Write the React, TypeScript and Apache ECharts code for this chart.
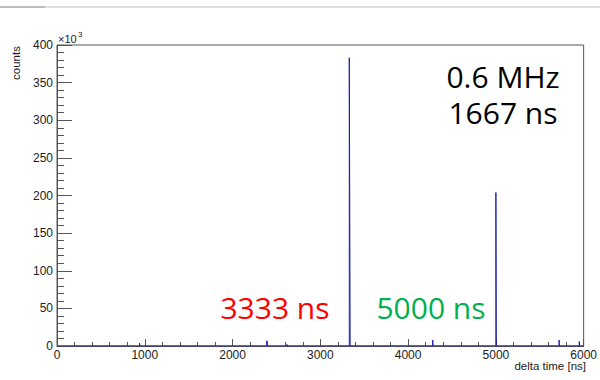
import React, { useEffect, useRef } from "react";
import * as echarts from "echarts";

// Histogram of time differences between consecutive hits (5 ns bins, counts in thousands)
const BIN_WIDTH = 5;
const binLow = [940, 2390, 2620, 3330, 3335, 4280, 5000, 5720, 5950];
const countsK = [4, 7, 2, 383, 193, 8, 204, 8, 6];

const xTicks = [0, 1000, 2000, 3000, 4000, 5000, 6000];
const yTicks = [0, 50, 100, 150, 200, 250, 300, 350, 400];

const rateLines = ["0.6 MHz", "1667 ns"];
const peakLabels = ["3333 ns", "5000 ns"];

// Build a step outline (ROOT "HIST" style) from the filled bins
function outline(): [number, number][] {
  const pts: [number, number][] = [[xTicks[0], 0]];
  let prevHigh: number | null = null;
  binLow.forEach((lo, i) => {
    const hi = lo + BIN_WIDTH;
    const v = countsK[i];
    if (prevHigh !== null && prevHigh === lo) {
      pts.push([lo, v]);
    } else {
      if (prevHigh !== null) pts.push([prevHigh, 0]);
      pts.push([lo, 0]);
      pts.push([lo, v]);
    }
    pts.push([hi, v]);
    prevHigh = hi;
  });
  if (prevHigh !== null) pts.push([prevHigh, 0]);
  pts.push([xTicks[xTicks.length - 1], 0]);
  return pts;
}

export default function App() {
  const ref = useRef<HTMLDivElement>(null);

  useEffect(() => {
    document.body.style.margin = "0";
    if (!ref.current) return;
    const chart = echarts.init(ref.current, undefined, { renderer: "svg" });
    const axisFont = "'Liberation Sans', Arial, Helvetica, sans-serif";
    const slideFont = "'Open Sans', 'Noto Sans', sans-serif";

    chart.setOption({
      animation: false,
      backgroundColor: "#ffffff",
      grid: {
        left: 57,
        right: 14,
        top: 45,
        bottom: 34,
        show: true,
        borderColor: "#555",
        borderWidth: 1,
        backgroundColor: "transparent",
      },
      xAxis: {
        type: "value",
        min: xTicks[0],
        max: xTicks[xTicks.length - 1],
        interval: 1000,
        axisLine: { show: true, lineStyle: { color: "#555", width: 1 } },
        axisTick: { show: true, inside: true, length: 7, lineStyle: { color: "#555" } },
        minorTick: { show: true, splitNumber: 5, length: 4, lineStyle: { color: "#555" } },
        splitLine: { show: false },
        axisLabel: {
          show: true,
          margin: 3,
          fontSize: 12,
          color: "#222",
          fontFamily: axisFont,
          showMinLabel: true,
          showMaxLabel: true,
          formatter: (v: number) => String(v),
        },
      },
      yAxis: {
        type: "value",
        min: yTicks[0],
        max: yTicks[yTicks.length - 1],
        interval: 50,
        axisLine: { show: true, lineStyle: { color: "#555", width: 1 } },
        axisTick: { show: true, inside: true, length: 15, lineStyle: { color: "#555" } },
        minorTick: { show: true, splitNumber: 5, length: 7, lineStyle: { color: "#555" } },
        splitLine: { show: false },
        axisLabel: {
          show: true,
          margin: 4,
          fontSize: 12,
          color: "#222",
          fontFamily: axisFont,
          showMinLabel: true,
          showMaxLabel: true,
        },
      },
      series: [
        {
          type: "line",
          data: outline(),
          symbol: "none",
          lineStyle: { color: "#1f1fb0", width: 1 },
          z: 1,
        },
      ],
      graphic: [
        { type: "rect", shape: { x: 0, y: 6, width: 45, height: 2 }, style: { fill: "#bdbdbd" }, silent: true },
        { type: "rect", shape: { x: 45, y: 6, width: 555, height: 2 }, style: { fill: "#dedede" }, silent: true },
        {
          type: "text",
          x: 16,
          y: 63,
          rotation: Math.PI / 2,
          style: { text: "counts", fontSize: 11.5, fontFamily: axisFont, fill: "#222", align: "center", verticalAlign: "middle" },
        },
        {
          type: "text",
          x: 58,
          y: 39,
          style: { text: "×10", fontSize: 11, fontFamily: axisFont, fill: "#222", align: "left", verticalAlign: "middle" },
        },
        {
          type: "text",
          x: 78,
          y: 34,
          style: { text: "3", fontSize: 8, fontFamily: axisFont, fill: "#222", align: "left", verticalAlign: "middle" },
        },
        {
          type: "text",
          x: 586,
          y: 366,
          style: { text: "delta time [ns]", fontSize: 11.5, fontFamily: axisFont, fill: "#222", align: "right", verticalAlign: "middle" },
        },
        {
          type: "text",
          x: 503,
          y: 94,
          style: {
            text: rateLines.join("\n"),
            fontSize: 30,
            lineHeight: 36,
            fontFamily: slideFont,
            fill: "#000",
            align: "center",
            verticalAlign: "middle",
          },
        },
        {
          type: "text",
          x: 275,
          y: 307,
          style: { text: peakLabels[0], fontSize: 30, fontFamily: slideFont, fill: "#ff0000", align: "center", verticalAlign: "middle" },
        },
        {
          type: "text",
          x: 431,
          y: 307,
          style: { text: peakLabels[1], fontSize: 30, fontFamily: slideFont, fill: "#00b050", align: "center", verticalAlign: "middle" },
        },
      ],
    });

    return () => chart.dispose();
  }, []);

  return <div ref={ref} style={{ width: 600, height: 380 }} />;
}
